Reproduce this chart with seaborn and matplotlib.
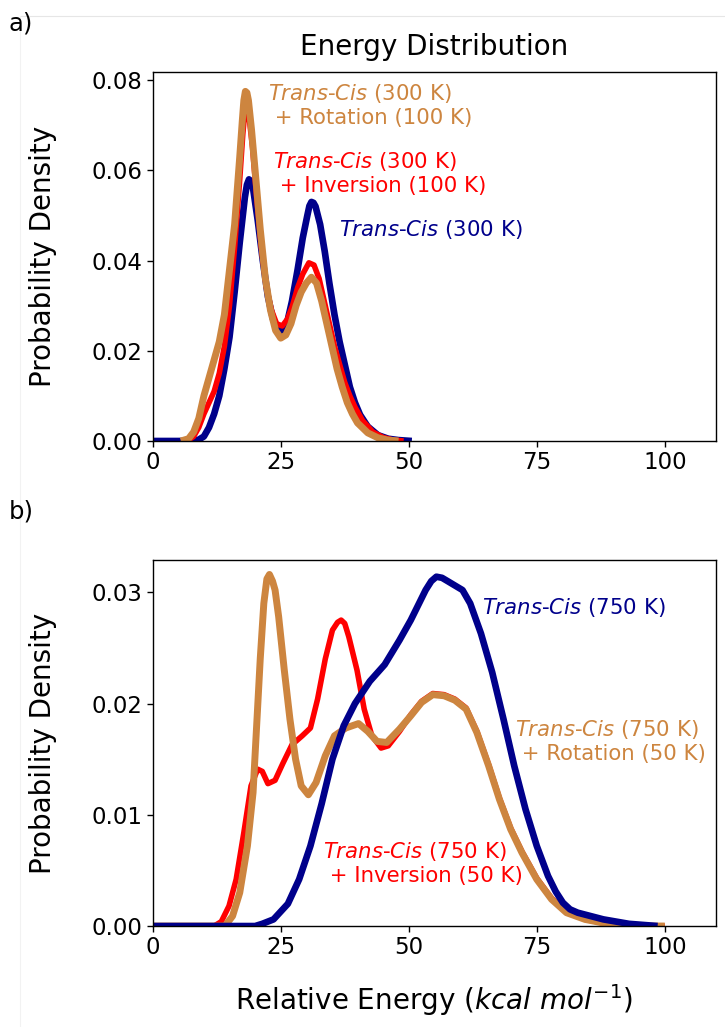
import numpy as np
import pandas as pd
import matplotlib
matplotlib.use("Agg")
import matplotlib.pyplot as plt
import seaborn as sns
from matplotlib.lines import Line2D

# ---- panel a) : 300 K runs ----
a_tc_x = [0, 8, 9, 10, 11, 12, 13, 14, 15, 16, 17, 18, 18.4, 18.8, 19.2, 19.6, 20.5, 21.5,
          22.5, 23.5, 24.5, 25.3, 26.2, 27.2, 28.3, 29.3, 30.2, 30.6, 31, 31.4, 31.8, 32.7,
          33.6, 34.5, 35.5, 36.5, 37.5, 38.5, 39.5, 40.5, 42, 44, 46, 48, 50.6]
a_tc_y = [0, 0, 0.0003, 0.001, 0.003, 0.006, 0.010, 0.016, 0.023, 0.033, 0.044, 0.054,
          0.0568, 0.058, 0.0576, 0.056, 0.049, 0.040, 0.032, 0.027, 0.0245, 0.024, 0.026,
          0.031, 0.038, 0.045, 0.050, 0.0521, 0.053, 0.0528, 0.052, 0.048, 0.042, 0.035,
          0.028, 0.022, 0.017, 0.012, 0.0085, 0.0058, 0.0032, 0.0013, 0.0005, 0.0002, 0]

a_inv_x = [6, 7, 8, 9, 10, 11, 12, 13, 14, 15, 16, 17, 17.6, 17.9, 18.2, 18.5, 18.8, 19.5,
           20.3, 21.2, 22.2, 23.2, 24.2, 25.3, 26.3, 27.3, 28.3, 29.3, 30.5, 31.5, 32.5,
           33.5, 34.5, 35.5, 36.5, 37.5, 38.5, 39.5, 41, 43, 45, 47, 49]
a_inv_y = [0, 0.0002, 0.001, 0.003, 0.006, 0.0085, 0.011, 0.015, 0.021, 0.030, 0.043, 0.058,
           0.068, 0.0718, 0.074, 0.0738, 0.072, 0.065, 0.054, 0.043, 0.034, 0.029, 0.026,
           0.0255, 0.027, 0.030, 0.034, 0.037, 0.0395, 0.039, 0.036, 0.031, 0.026, 0.021,
           0.017, 0.013, 0.010, 0.0075, 0.0045, 0.002, 0.0008, 0.0002, 0]

a_rot_x = [5.5, 7, 8, 9, 10, 11, 12, 13, 14, 15, 16, 17, 17.5, 17.8, 18.1, 18.4, 18.7,
           19.3, 20, 21, 22, 23, 24, 25, 26, 27, 28, 29, 30, 31, 32, 33, 34, 35, 36, 37, 38,
           39, 40, 42, 44, 46, 48]
a_rot_y = [0, 0.0005, 0.002, 0.005, 0.010, 0.014, 0.018, 0.022, 0.028, 0.038, 0.048, 0.063,
           0.071, 0.0755, 0.0775, 0.0772, 0.0755, 0.069, 0.060, 0.047, 0.036, 0.029, 0.0245,
           0.0228, 0.0235, 0.026, 0.030, 0.033, 0.035, 0.0363, 0.035, 0.031, 0.026, 0.021,
           0.016, 0.012, 0.0085, 0.006, 0.004, 0.0018, 0.0007, 0.0002, 0]

# ---- panel b) : 750 K runs ----
b_tc_x = [0, 20, 21.4, 23.6, 26.4, 28.6, 30.8, 33, 35.1, 37.3, 39.5, 42.4, 45.3, 48.2, 50.4,
          53.3, 54.4, 55.4, 56.5, 57.6, 60.5, 62, 64.1, 66.3, 68.5, 70.6, 72.8, 75, 77.2,
          78.7, 80.1, 81.5, 83, 85.5, 88, 93, 98.6]
b_tc_y = [0, 0, 0.0002, 0.0006, 0.002, 0.0042, 0.0072, 0.011, 0.015, 0.018, 0.020, 0.022,
          0.0235, 0.0257, 0.0275, 0.0302, 0.031, 0.0314, 0.0313, 0.031, 0.0302, 0.029,
          0.0263, 0.0228, 0.0186, 0.0144, 0.0105, 0.0072, 0.0045, 0.0031, 0.0021, 0.0015,
          0.0012, 0.0009, 0.0006, 0.0002, 0]

b_inv_x = [0, 12, 13.4, 14.9, 16.3, 17.8, 19.2, 20.5, 21.4, 22.5, 23.9, 25.4, 27.2, 29.2,
           30.8, 32.2, 33.7, 35.1, 36.1, 36.8, 37.5, 38.3, 39.9, 41.3, 42.8, 44.6, 46, 48.2,
           50.4, 52.5, 54.7, 56.9, 59, 61.2, 63.3, 65.6, 67.7, 69.9, 72.1, 75, 77.9, 80.8,
           84.4, 88.8, 95, 100]
b_inv_y = [0, 0, 0.0004, 0.0018, 0.0042, 0.0084, 0.0126, 0.0141, 0.0139, 0.0128, 0.0131,
           0.0146, 0.0163, 0.0171, 0.0178, 0.0204, 0.024, 0.0266, 0.0273, 0.0275, 0.0272,
           0.026, 0.023, 0.0195, 0.0171, 0.016, 0.0162, 0.0175, 0.019, 0.0202, 0.0209,
           0.0208, 0.0204, 0.0196, 0.0175, 0.0145, 0.0115, 0.0088, 0.0067, 0.0043, 0.0025,
           0.0013, 0.0006, 0.0002, 0, 0]

b_rot_x = [0, 14.1, 15.6, 17, 18.5, 19.6, 20.3, 21, 21.7, 22.3, 22.8, 23.4, 23.9, 24.6,
           25.7, 26.8, 27.9, 29, 30.4, 31.9, 33.7, 35.5, 37.7, 40.2, 42, 43.8, 45.7, 48.2,
           50.4, 52.5, 54.7, 56.9, 59, 61.2, 63.3, 65.6, 67.7, 69.9, 72.1, 75, 77.9, 80.8,
           84.4, 88.8, 95, 100]
b_rot_y = [0, 0, 0.0009, 0.003, 0.0072, 0.012, 0.018, 0.024, 0.029, 0.0312, 0.0316, 0.031,
           0.0302, 0.0278, 0.023, 0.0186, 0.015, 0.0126, 0.0118, 0.0129, 0.0153, 0.0171,
           0.0178, 0.0182, 0.0175, 0.0166, 0.0165, 0.0177, 0.0189, 0.0201, 0.0208, 0.0207,
           0.0203, 0.0195, 0.0174, 0.0144, 0.0114, 0.0087, 0.0066, 0.0042, 0.0024, 0.0012,
           0.0006, 0.0002, 0, 0]

BLUE, RED, ORANGE = "#00008B", "#FF0000", "#CD853F"

sns.set_style("ticks")
plt.rcParams["font.family"] = ["DejaVu Sans"]
plt.rcParams["mathtext.default"] = "regular"
for k in ("text.color", "axes.labelcolor", "xtick.color", "ytick.color", "axes.edgecolor"):
    plt.rcParams[k] = "black"

fig = plt.figure(figsize=(7.25, 10.27), dpi=100)
ax1 = fig.add_axes([0.2106, 0.5706, 0.777, 0.3593])
ax2 = fig.add_axes([0.2106, 0.0983, 0.777, 0.3564])

line_kw = dict(sort=False, estimator=None, solid_joinstyle="round", solid_capstyle="butt")
sns.lineplot(x=a_tc_x, y=a_tc_y, ax=ax1, color=BLUE, lw=4.8, **line_kw)
sns.lineplot(x=a_inv_x, y=a_inv_y, ax=ax1, color=RED, lw=4.0, **line_kw)
sns.lineplot(x=a_rot_x, y=a_rot_y, ax=ax1, color=ORANGE, lw=5.0, **line_kw)

sns.lineplot(x=b_inv_x, y=b_inv_y, ax=ax2, color=RED, lw=4.0, **line_kw)
sns.lineplot(x=b_rot_x, y=b_rot_y, ax=ax2, color=ORANGE, lw=5.0, **line_kw)
sns.lineplot(x=b_tc_x, y=b_tc_y, ax=ax2, color=BLUE, lw=4.8, **line_kw)

TFS = 16.5   # tick labels
AFS = 20     # axis labels / title
LFS = 15.3   # curve annotations
for ax in (ax1, ax2):
    ax.set_xlim(0, 110)
    ax.set_xticks([0, 25, 50, 75, 100])
    ax.tick_params(labelsize=TFS, length=4, width=1)
    ax.set_ylabel("Probability Density", fontsize=AFS)
    ax.yaxis.set_label_coords(-0.17, 0.5)
    for s in ax.spines.values():
        s.set_color("black")
        s.set_linewidth(1)

ax1.set_ylim(0, 0.0818)
ax1.set_yticks([0, 0.02, 0.04, 0.06, 0.08])
ax1.set_title("Energy Distribution", fontsize=AFS, pad=12)
ax2.set_ylim(0, 0.0329)
ax2.set_yticks([0, 0.01, 0.02, 0.03])
ax2.set_xlabel("Relative Energy ($\\it{kcal}$ $\\it{mol}^{-1}$)", fontsize=AFS, labelpad=16)
ax1.set_xlabel("")

# annotations
ax1.text(22.5, 0.0744, "$\\it{Trans}$-$\\it{Cis}$ (300 K)\n + Rotation (100 K)",
         color=ORANGE, fontsize=LFS, va="center", ha="left")
ax1.text(23.5, 0.0594, "$\\it{Trans}$-$\\it{Cis}$ (300 K)\n + Inversion (100 K)",
         color=RED, fontsize=LFS, va="center", ha="left")
ax1.text(36.4, 0.0468, "$\\it{Trans}$-$\\it{Cis}$ (300 K)",
         color=BLUE, fontsize=LFS, va="center", ha="left")

ax2.text(64.3, 0.0286, "$\\it{Trans}$-$\\it{Cis}$ (750 K)",
         color=BLUE, fontsize=LFS, va="center", ha="left")
ax2.text(70.8, 0.01666, "$\\it{Trans}$-$\\it{Cis}$ (750 K)\n + Rotation (50 K)",
         color=ORANGE, fontsize=LFS, va="center", ha="left")
ax2.text(33.3, 0.00566, "$\\it{Trans}$-$\\it{Cis}$ (750 K)\n + Inversion (50 K)",
         color=RED, fontsize=LFS, va="center", ha="left")

fig.text(0.012, 0.977, "a)", fontsize=17.5, va="center", ha="left")
fig.text(0.012, 0.5015, "b)", fontsize=17.5, va="center", ha="left")

# faint frame lines from the original screenshot
fig.add_artist(Line2D([0.028, 1.0], [0.9844, 0.9844], transform=fig.transFigure,
                      color="#e6e6e6", lw=0.8))
fig.add_artist(Line2D([0.028, 0.028], [0.0, 0.9844], transform=fig.transFigure,
                      color="#f2f2f2", lw=0.8))

fig.savefig("out.png", dpi=100)
